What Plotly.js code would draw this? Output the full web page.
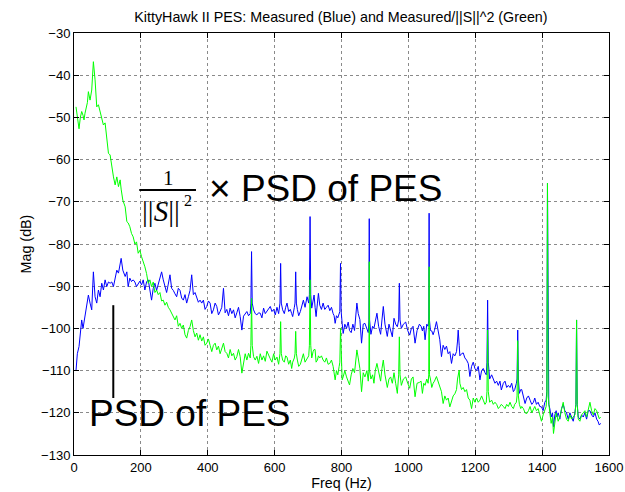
<!DOCTYPE html>
<html>
<head>
<meta charset="utf-8">
<script src="https://cdn.plot.ly/plotly-3.0.1.min.js"></script>
<style>html,body{margin:0;padding:0;background:#fff;}#chart{width:625px;height:492px;}</style>
</head>
<body>
<div id="chart"></div>
<script>
// Frequency (Hz)
const freq = [
  6,10,15,19,23,27,30,33,36,40,
  43,48,53,58,63,68,73,78,83,88,
  93,98,103,108,113,118,123,128,133,138,
  141,146,153,158,162,167,172,177,182,187,
  192,197,202,207,212,217,222,227,232,237,
  242,247,252,257,262,267,272,277,282,287,
  292,297,302,307,312,317,322,327,332,337,
  342,347,352,357,362,367,372,377,382,387,
  392,397,402,407,412,417,422,427,432,437,
  442,447,452,457,462,467,472,477,482,487,
  492,497,502,507,512,517,522,527,529,531,
  533,537,542,547,552,557,562,567,572,577,
  582,587,592,597,602,607,612,616,618,620,
  624,629,633,637,642,647,651,654,659,661,
  663,665,668,672,677,682,686,691,697,702,
  704,706,708,711,715,718,721,724,728,731,
  735,740,745,750,755,760,765,770,775,778,
  781,785,789,793,795,797,799,802,805,810,
  815,820,824,829,834,839,843,846,850,855,
  860,865,870,876,880,882,883,884,888,893,
  897,901,906,911,917,921,925,930,937,942,
  947,952,957,962,967,971,973,975,979,985,
  992,998,1004,1009,1014,1020,1026,1033,1038,1042,
  1046,1050,1055,1059,1061,1062,1063,1066,1070,1074,
  1078,1084,1089,1094,1099,1104,1109,1114,1119,1124,
  1129,1134,1139,1144,1147,1149,1152,1154,1159,1164,
  1169,1174,1179,1184,1189,1194,1199,1204,1209,1214,
  1219,1224,1229,1233,1235,1237,1239,1243,1249,1254,
  1259,1264,1269,1274,1278,1284,1289,1294,1299,1304,
  1309,1314,1318,1323,1325,1327,1329,1332,1336,1339,
  1344,1349,1354,1359,1364,1369,1374,1378,1383,1388,
  1393,1398,1403,1408,1412,1414,1416,1418,1420,1423,
  1427,1431,1434,1438,1442,1444,1448,1453,1458,1463,
  1468,1473,1478,1483,1488,1493,1498,1501,1503,1505,
  1508,1513,1518,1523,1528,1533,1538,1543,1548,1553,
  1558,1563,1567,1571,1575
];
// Measured PSD of PES (blue), dB
const measuredDb = [
  -110,-106,-104.3,-101,-98,-100,-98.5,-97.1,-96,-93.5,
  -92.1,-94,-95.6,-86.6,-92.5,-94,-90.9,-92.5,-89.3,-90.9,
  -88.5,-90.1,-89,-89.3,-89,-90.1,-88.1,-86.2,-86.9,-85,
  -83.4,-86.2,-87.7,-86.6,-90.1,-88.1,-88.9,-88.5,-89,-90.1,
  -89.5,-88.8,-89.7,-88.5,-90.9,-89,-88.5,-90.9,-93.3,-90.5,
  -89.3,-91,-89.5,-88,-86.6,-88.5,-90,-91.5,-89.5,-87.3,
  -90.5,-91,-91.8,-92.5,-90.5,-91,-92.8,-93.3,-92,-94,
  -92.5,-91,-87.3,-92,-91.5,-92.5,-93.8,-93.3,-94,-93.3,
  -95.5,-94.8,-93.5,-94,-96.5,-95.6,-94,-94.8,-96.8,-96,
  -95,-90.5,-96.3,-95.5,-97,-95.2,-96.5,-95.6,-97.5,-96.3,
  -95,-97.2,-100.4,-97.1,-96.5,-96,-97,-96.5,-94,-81.8,
  -94,-95.6,-96.5,-96.8,-96.3,-96.4,-97.5,-95.2,-96.5,-96,
  -95.5,-94.8,-96,-95.5,-96.8,-95,-96.5,-94,-84.6,-94,
  -95.6,-96.5,-95,-94,-96,-95.5,-96.5,-97.2,-95,-94,
  -86.6,-94,-95.5,-97,-96,-94.5,-93.3,-95,-92.5,-94,
  -92,-73.5,-92,-95.2,-93,-92.1,-95,-97.2,-94,-91.7,
  -94.5,-95.5,-94,-95.5,-95,-94.5,-95.8,-95,-96.5,-97,
  -98.8,-97,-97.5,-96,-96,-84.6,-96,-98.8,-101.2,-99,
  -100,-98.5,-100.5,-101,-99,-100.5,-96,-94,-96.5,-97.9,
  -103.5,-99,-98.8,-100,-101,-98,-74,-98,-101.4,-99.5,
  -100,-98,-96.4,-99.5,-101.4,-98,-94.8,-99,-101.9,-99,
  -100.5,-102,-97.6,-99,-99.6,-98,-89.3,-98,-100,-99,
  -98.5,-100.5,-101.6,-100,-99.5,-103.5,-100.5,-99,-99.5,-100.6,
  -99.5,-102.7,-99,-99.5,-98,-72.7,-98,-100.5,-100.6,-101.5,
  -100.5,-98.4,-101,-102.7,-106.7,-104,-105,-104.2,-106,-105.5,
  -108.3,-106,-106.5,-105.5,-103,-100.4,-104,-106.5,-106,-105.8,
  -107,-107.5,-108.3,-111.4,-109,-108,-109.5,-110,-109,-112.2,
  -110,-109.5,-110.5,-111,-108,-93.3,-108,-112,-111,-112,
  -113,-112.5,-113.5,-112.5,-114.6,-113,-112.5,-114,-113.5,-114,
  -113,-115,-114.5,-113,-112,-100.4,-112,-115.4,-114.5,-114.5,
  -116.5,-117.8,-116.5,-116,-117,-118,-117.5,-116.5,-118,-117.5,
  -118.5,-118.6,-119.5,-117.5,-117,-115,-65.6,-115,-118,-119,
  -121,-120,-123.3,-120.5,-119.5,-121,-120,-121.5,-119,-118,
  -119.5,-120,-121.5,-120,-121,-122,-120,-118,-98,-118,
  -121,-121.5,-120.5,-121,-120,-121.5,-119.5,-119.5,-120.5,-121,
  -120,-121.5,-122,-122.9,-122.5
];
// Measured / ||S||^2 (green), dB
const scaledDb = [
  -47.5,-50,-52.7,-50,-48.6,-49.5,-50.6,-49,-47.9,-46.5,
  -43.9,-45.9,-43.5,-36.8,-41.1,-47.5,-47,-48.5,-49.8,-51.8,
  -51.3,-55.4,-58.5,-58.9,-61.7,-64.1,-66,-64.1,-66.4,-64.8,
  -67,-69.6,-71.2,-74.7,-75,-75.9,-77.5,-78.3,-80,-79.5,
  -82.2,-81.5,-83,-84,-85.4,-87,-89.3,-88.5,-90.1,-89,
  -91.5,-90.9,-92,-91.5,-93.5,-93.3,-94.5,-93.8,-95,-95.6,
  -96.5,-97.3,-98,-97,-99.5,-98.8,-100,-99.2,-101.5,-102.3,
  -100.5,-99.6,-98,-100.5,-102,-101.1,-102.8,-101.5,-103,-102,
  -104,-103.5,-102.5,-104,-105.5,-104,-103.5,-105.1,-104.2,-106,
  -104.5,-103.5,-105.5,-105.9,-107,-105,-106.5,-105.9,-107.5,-106.7,
  -105,-106.7,-110.6,-108,-106,-107.5,-105.9,-107,-104,-92.9,
  -104,-106.7,-107.5,-106.6,-108.3,-106,-107.5,-106.5,-107.8,-105.4,
  -106.5,-107.2,-108,-106,-107.5,-106.8,-108.5,-106,-98.4,-106,
  -107.5,-108,-106.5,-106.8,-108.5,-107.5,-109.5,-108,-107,-106,
  -100.7,-106,-107.5,-109,-108.5,-107,-106,-108,-107,-106.5,
  -104,-88.5,-104,-107,-105.5,-105,-105,-108,-107.5,-106.5,
  -107,-106.5,-107.5,-108,-107,-108.5,-108.3,-107.5,-109,-110.5,
  -112.2,-110,-111,-109,-108,-100,-108,-112.2,-111.5,-110,
  -111.5,-112.5,-113.4,-111,-109.5,-110.5,-107,-105.1,-107,-109.5,
  -115,-110.5,-111.5,-110,-112.5,-110,-84.2,-110,-112,-111,
  -113,-110,-108.3,-110.5,-112.5,-109.5,-107.5,-111,-114,-112,
  -111.5,-113,-110.5,-113,-115.4,-111,-102,-111,-113.5,-112,
  -111.5,-113,-114.2,-112,-111.5,-116.2,-113,-112.8,-112.5,-115.4,
  -113,-113.5,-112,-113,-111,-85.4,-111,-112,-114,-113,
  -112.5,-111.4,-112.5,-113.5,-115,-117.8,-116,-117,-116.5,-118.6,
  -117,-116,-115.5,-114.5,-112,-110.5,-109.9,-113,-114.5,-114,
  -115,-114.5,-116.5,-117,-119,-116.5,-117.5,-116.5,-117.5,-117,
  -116,-117,-118,-117.5,-115,-100.4,-115,-117.5,-117,-118,
  -117.5,-118,-119,-118.5,-118,-118.5,-119,-118,-118.5,-117.5,
  -118.5,-119,-118,-117.5,-116,-102.9,-116,-118,-119,-118.5,
  -119,-120,-120.2,-119.5,-118.5,-120,-119,-118.5,-119.5,-119,
  -120.5,-122,-120.5,-119.5,-118.5,-116,-65.6,-116,-118.5,-120,
  -122.5,-121,-124.9,-121.5,-120,-120.5,-122,-121,-119.5,-117.5,
  -120,-121.5,-122,-120.5,-121.5,-121,-120.5,-118,-98,-118,
  -121.5,-122,-120.5,-120,-119.5,-121,-119,-117.5,-119.5,-120.5,
  -119,-119.5,-120.5,-121.4,-121
];
const xTickVals = [0,200,400,600,800,1000,1200,1400,1600];
const yTickVals = [-130,-120,-110,-100,-90,-80,-70,-60,-50,-40,-30];

const FONT = '"Liberation Sans", Arial, Helvetica, sans-serif';
const SERIF = '"Liberation Serif", "Times New Roman", serif';

const traces = [
  {x: freq, y: measuredDb, type: 'scatter', mode: 'lines',
   line: {color: '#0000ff', width: 1}, hoverinfo: 'skip'},
  {x: freq, y: scaledDb, type: 'scatter', mode: 'lines',
   line: {color: '#00ff00', width: 1}, hoverinfo: 'skip'}
];

const axisCommon = {
  showline: true, linecolor: '#000', linewidth: 1, mirror: 'ticks',
  ticks: 'inside', ticklen: 5, tickcolor: '#000', tickwidth: 1,
  showgrid: true, gridcolor: '#8a8a8a', gridwidth: 1, griddash: 'dot',
  zeroline: false, tickfont: {family: FONT, size: 13, color: '#000'},
  fixedrange: true
};

const layout = {
  width: 625, height: 492, autosize: false,
  margin: {l: 74, r: 16, t: 33, b: 37, pad: 0},
  paper_bgcolor: '#fff', plot_bgcolor: '#fff',
  showlegend: false,
  title: {text: 'KittyHawk II PES: Measured (Blue) and Measured/||S||^2 (Green)',
          font: {family: FONT, size: 14.3, color: '#000'},
          x: 0.5455, xanchor: 'center', y: 0.966, yanchor: 'middle'},
  xaxis: Object.assign({}, axisCommon, {
    range: [0, 1600], tickvals: xTickVals,
    title: {text: 'Freq (Hz)', font: {family: FONT, size: 14.3, color: '#000'}, standoff: 2}
  }),
  yaxis: Object.assign({}, axisCommon, {
    range: [-130, -30], tickvals: yTickVals,
    title: {text: 'Mag (dB)', font: {family: FONT, size: 14.3, color: '#000'}, standoff: 6}
  }),
  annotations: [
    {xref: 'paper', yref: 'paper', x: 0.0243, y: 0.0995, xanchor: 'left', yanchor: 'middle',
     text: 'PSD of PES', showarrow: false, font: {family: FONT, size: 37, color: '#000'}},
    {xref: 'paper', yref: 'paper', x: 0.2486, y: 0.6315, xanchor: 'left', yanchor: 'middle',
     text: '\u00d7 PSD of PES', showarrow: false, font: {family: FONT, size: 37, color: '#000'}},
    {xref: 'paper', yref: 'paper', x: 0.1766, y: 0.656, xanchor: 'center', yanchor: 'middle',
     text: '1', showarrow: false, font: {family: SERIF, size: 21, color: '#000'}},
    {xref: 'paper', yref: 'paper', x: 0.1620, y: 0.5782, xanchor: 'center', yanchor: 'middle',
     text: '||<i>S</i>||', showarrow: false, font: {family: SERIF, size: 29, color: '#000'}},
    {xref: 'paper', yref: 'paper', x: 0.2122, y: 0.6040, xanchor: 'center', yanchor: 'middle',
     text: '2', showarrow: false, font: {family: SERIF, size: 16, color: '#000'}}
  ],
  shapes: [
    {type: 'line', xref: 'paper', yref: 'paper', x0: 0.122, x1: 0.228, y0: 0.628, y1: 0.628,
     line: {color: '#000', width: 1.8}},
    {type: 'line', xref: 'x', yref: 'y', x0: 117.5, x1: 117.5, y0: -94.5, y1: -116.5,
     line: {color: '#000', width: 2}}
  ]
};

Plotly.newPlot('chart', traces, layout, {staticPlot: true, displayModeBar: false});
</script>
</body>
</html>
